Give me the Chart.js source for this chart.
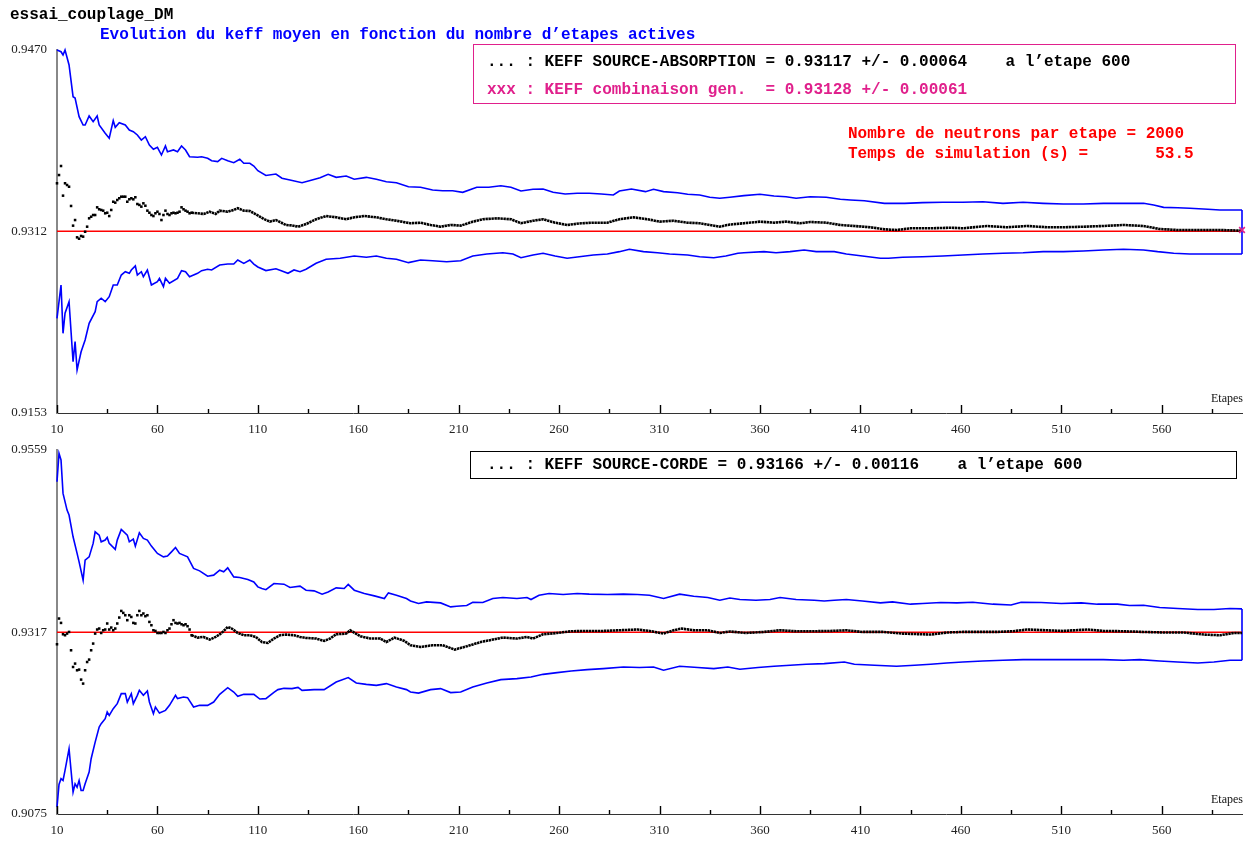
<!DOCTYPE html>
<html><head><meta charset="utf-8">
<script src="https://cdn.jsdelivr.net/npm/chart.js@4.4.1/dist/chart.umd.min.js"></script>
<style>
html,body{margin:0;padding:0;background:#fff;width:1250px;height:842px;overflow:hidden;}
#wrap{position:relative;width:1250px;height:842px;}
canvas{position:absolute;left:0;}
#c1{top:0}
#c2{top:430px}
.t{position:absolute;font-family:"Liberation Mono","DejaVu Sans Mono",monospace;font-weight:bold;font-size:16px;white-space:pre;line-height:16px;}
.box{position:absolute;box-sizing:border-box;}
</style></head>
<body><div id="wrap">
<canvas id="c1" width="1250" height="445"></canvas>
<canvas id="c2" width="1250" height="412"></canvas>
<div class="t" style="left:10px;top:7px;color:#000">essai_couplage_DM</div>
<div class="t" style="left:100px;top:27px;color:#0000ff">Evolution du keff moyen en fonction du nombre d’etapes actives</div>
<div class="box" style="left:473px;top:44px;width:763px;height:60px;border:1.5px solid #e0208c"></div>
<div class="t" style="left:487px;top:54px;color:#000">... : KEFF SOURCE-ABSORPTION = 0.93117 +/- 0.00064    a l’etape 600</div>
<div class="t" style="left:487px;top:82px;color:#e0208c">xxx : KEFF combinaison gen.  = 0.93128 +/- 0.00061</div>
<div class="t" style="left:848px;top:126px;color:#ff0000">Nombre de neutrons par etape = 2000</div>
<div class="t" style="left:848px;top:146px;color:#ff0000">Temps de simulation (s) =       53.5</div>
<div class="box" style="left:470px;top:451px;width:767px;height:28px;border:1.5px solid #000"></div>
<div class="t" style="left:487px;top:457px;color:#000">... : KEFF SOURCE-CORDE = 0.93166 +/- 0.00116    a l’etape 600</div>
</div>
<script>
// ---------- axes / labels ----------
const xMin = 10, xMax = 600;
const xTickValues = [10,60,110,160,210,260,310,360,410,460,510,560];
const xMinorTicks = [35,85,135,185,235,285,335,385,435,485,535,585];
const xAxisTitle = 'Etapes';

const topYMin = 0.9153, topYMax = 0.9470, topKeff = 0.93117, topComb = 0.93128;
const topYLabels = ['0.9153','0.9312','0.9470'];
const botYMin = 0.9075, botYMax = 0.9559, botKeff = 0.93166;
const botYLabels = ['0.9075','0.9317','0.9559'];

// ---------- top panel series : [etape, keff] ----------
const topUpper = [
[10,0.94700],[12,0.94685],[13,0.94656],[14,0.94700],[16,0.94569],[18,0.94292],[19,0.94281],[21,0.94118],[23,0.94045],[24,0.94045],
[26,0.94124],[28,0.94074],[30,0.94124],[31,0.94045],[34,0.93973],[36,0.93929],[38,0.94083],[39,0.94025],[41,0.94065],[44,0.94045],
[46,0.94001],[48,0.93987],[50,0.93958],[52,0.93914],[54,0.93943],[56,0.93870],[58,0.93833],[60,0.93850],[62,0.93783],[64,0.93862],
[65,0.93812],[68,0.93827],[70,0.93812],[72,0.93862],[74,0.93827],[76,0.93768],[80,0.93763],[82,0.93768],[85,0.93754],[87,0.93733],
[90,0.93725],[92,0.93754],[95,0.93733],[98,0.93716],[101,0.93746],[103,0.93711],[106,0.93711],[108,0.93687],[110,0.93646],[114,0.93604],
[119,0.93617],[122,0.93580],[126,0.93565],[132,0.93541],[137,0.93565],[141,0.93585],[145,0.93615],[149,0.93588],[154,0.93600],[158,0.93571],
[164,0.93588],[169,0.93571],[174,0.93550],[179,0.93541],[185,0.93506],[191,0.93501],[197,0.93477],[202,0.93471],[207,0.93471],[212,0.93457],
[219,0.93501],[225,0.93501],[231,0.93515],[236,0.93501],[241,0.93469],[247,0.93484],[252,0.93486],[257,0.93457],[263,0.93443],[269,0.93449],
[275,0.93449],[281,0.93443],[287,0.93434],[290,0.93469],[296,0.93486],[303,0.93463],[307,0.93484],[312,0.93463],[319,0.93454],[324,0.93440],
[330,0.93434],[335,0.93414],[340,0.93405],[345,0.93414],[352,0.93428],[360,0.93440],[367,0.93425],[373,0.93419],[378,0.93405],[385,0.93419],
[393,0.93414],[400,0.93396],[405,0.93390],[412,0.93384],[422,0.93361],[432,0.93361],[441,0.93367],[451,0.93370],[461,0.93370],[471,0.93375],
[481,0.93361],[491,0.93370],[501,0.93361],[511,0.93355],[521,0.93355],[531,0.93361],[541,0.93361],[551,0.93361],[556,0.93347],[561,0.93326],
[568,0.93323],[574,0.93318],[583,0.93309],[589,0.93303],[600,0.93303]
];
const topLower = [
[10,0.92357],[12,0.92648],[13,0.92226],[14,0.92401],[16,0.92502],[18,0.91978],[19,0.92153],[20,0.91906],[22,0.92065],[24,0.92168],
[26,0.92313],[29,0.92415],[30,0.92502],[32,0.92532],[34,0.92502],[36,0.92546],[38,0.92648],[40,0.92648],[42,0.92735],[44,0.92764],
[46,0.92750],[47,0.92779],[49,0.92814],[50,0.92735],[52,0.92764],[53,0.92720],[55,0.92779],[57,0.92648],[60,0.92677],[61,0.92706],
[63,0.92633],[64,0.92706],[66,0.92663],[70,0.92706],[72,0.92773],[74,0.92764],[76,0.92720],[80,0.92750],[82,0.92773],[85,0.92785],
[87,0.92779],[91,0.92822],[95,0.92831],[98,0.92831],[100,0.92866],[103,0.92837],[106,0.92866],[108,0.92831],[110,0.92805],[114,0.92774],
[119,0.92790],[122,0.92770],[125,0.92750],[128,0.92779],[131,0.92764],[134,0.92785],[139,0.92837],[144,0.92872],[151,0.92881],[158,0.92901],
[164,0.92890],[169,0.92901],[174,0.92881],[179,0.92872],[185,0.92843],[191,0.92866],[197,0.92860],[204,0.92851],[211,0.92860],[217,0.92901],
[224,0.92919],[232,0.92930],[237,0.92919],[241,0.92886],[247,0.92910],[252,0.92925],[258,0.92901],[264,0.92881],[270,0.92895],[277,0.92910],
[284,0.92919],[290,0.92939],[295,0.92960],[302,0.92939],[309,0.92930],[315,0.92919],[324,0.92910],[330,0.92895],[337,0.92886],[343,0.92901],
[349,0.92925],[352,0.92930],[362,0.92939],[368,0.92930],[375,0.92939],[382,0.92954],[388,0.92939],[397,0.92939],[403,0.92919],[411,0.92901],
[420,0.92881],[424,0.92881],[431,0.92890],[441,0.92895],[451,0.92901],[461,0.92910],[471,0.92919],[481,0.92925],[491,0.92930],[501,0.92939],
[511,0.92939],[521,0.92945],[531,0.92954],[541,0.92960],[551,0.92954],[558,0.92939],[566,0.92925],[574,0.92919],[584,0.92919],[600,0.92919]
];
const topMean = [
[10,0.93536],[11,0.93608],[12,0.93687],[13,0.93428],[14,0.93536],[15,0.93521],[16,0.93506],[17,0.93338],[18,0.93166],[19,0.93215],
[20,0.93064],[21,0.93052],[22,0.93076],[23,0.93070],[24,0.93113],[25,0.93157],[26,0.93230],[27,0.93244],[28,0.93259],[29,0.93259],
[30,0.93326],[31,0.93309],[32,0.93303],[33,0.93297],[34,0.93274],[35,0.93279],[36,0.93250],[37,0.93303],[38,0.93375],[39,0.93367],
[40,0.93390],[41,0.93405],[42,0.93419],[43,0.93419],[44,0.93419],[45,0.93375],[46,0.93396],[47,0.93405],[48,0.93396],[49,0.93414],
[50,0.93355],[51,0.93347],[52,0.93332],[53,0.93361],[54,0.93340],[55,0.93297],[56,0.93279],[57,0.93259],[58,0.93250],[59,0.93274],
[60,0.93288],[61,0.93268],[62,0.93215],[63,0.93259],[64,0.93297],[65,0.93268],[66,0.93259],[67,0.93274],[68,0.93279],[69,0.93274],
[70,0.93279],[71,0.93288],[72,0.93326],[73,0.93309],[74,0.93297],[75,0.93288],[76,0.93274],[77,0.93279],
[80,0.93274],[83,0.93268],[86,0.93288],[89,0.93268],[91,0.93297],[95,0.93288],[98,0.93303],[100,0.93318],[103,0.93297],[106,0.93294],
[110,0.93255],[113,0.93224],[116,0.93201],[119,0.93215],[121,0.93198],[124,0.93172],[127,0.93168],[130,0.93157],[134,0.93180],[139,0.93222],
[144,0.93250],[149,0.93239],[154,0.93222],[158,0.93239],[163,0.93250],[169,0.93239],[174,0.93222],[179,0.93209],[186,0.93187],[191,0.93192],
[196,0.93172],[201,0.93157],[206,0.93172],[211,0.93166],[217,0.93201],[222,0.93222],[229,0.93230],[236,0.93222],[241,0.93187],[247,0.93209],
[252,0.93222],[258,0.93192],[264,0.93172],[271,0.93187],[277,0.93192],[284,0.93192],[290,0.93222],[297,0.93239],[304,0.93222],[310,0.93201],
[317,0.93209],[324,0.93192],[330,0.93187],[335,0.93172],[340,0.93157],[345,0.93176],[352,0.93187],[360,0.93201],[367,0.93192],[373,0.93201],
[380,0.93187],[385,0.93198],[393,0.93192],[400,0.93172],[407,0.93163],[415,0.93152],[422,0.93134],[428,0.93128],[435,0.93143],[445,0.93143],
[455,0.93148],[461,0.93143],[473,0.93163],[483,0.93152],[493,0.93163],[503,0.93152],[511,0.93152],[521,0.93157],[531,0.93163],[541,0.93172],
[551,0.93163],[559,0.93137],[568,0.93128],[578,0.93128],[589,0.93128],[600,0.93122]
];

// ---------- bottom panel series : [etape, keff] ----------
const botUpper = [
[10,0.95168],[11,0.95546],[12,0.95457],[13,0.95013],[15,0.94791],[16,0.94725],[18,0.94436],[20,0.94215],[21,0.94103],[23,0.93859],
[24,0.94125],[26,0.94169],[28,0.94348],[29,0.94502],[31,0.94458],[32,0.94369],[34,0.94392],[35,0.94428],[36,0.94348],[39,0.94268],
[40,0.94392],[42,0.94534],[45,0.94458],[46,0.94369],[48,0.94405],[49,0.94312],[51,0.94489],[53,0.94414],[55,0.94392],[57,0.94312],
[58,0.94281],[60,0.94215],[63,0.94169],[65,0.94179],[67,0.94236],[69,0.94294],[71,0.94215],[75,0.94169],[78,0.94015],[81,0.93983],
[85,0.93912],[88,0.93926],[91,0.93992],[93,0.93970],[95,0.94023],[98,0.93903],[101,0.93895],[105,0.93868],[108,0.93836],[110,0.93770],
[112,0.93749],[114,0.93733],[118,0.93815],[123,0.93806],[126,0.93762],[131,0.93779],[134,0.93726],[138,0.93717],[142,0.93673],[145,0.93703],
[149,0.93757],[153,0.93749],[155,0.93802],[158,0.93726],[163,0.93682],[168,0.93650],[173,0.93615],[175,0.93690],[179,0.93659],[184,0.93615],
[186,0.93583],[190,0.93549],[194,0.93570],[201,0.93557],[206,0.93504],[209,0.93513],[214,0.93522],[217,0.93566],[222,0.93562],[227,0.93615],
[232,0.93629],[239,0.93615],[244,0.93629],[246,0.93602],[250,0.93659],[255,0.93682],[262,0.93669],[269,0.93682],[275,0.93673],[284,0.93669],
[292,0.93673],[299,0.93669],[305,0.93659],[312,0.93615],[320,0.93673],[327,0.93646],[334,0.93629],[340,0.93593],[345,0.93622],[350,0.93602],
[358,0.93593],[365,0.93602],[370,0.93629],[378,0.93602],[387,0.93593],[392,0.93583],[397,0.93593],[403,0.93602],[411,0.93583],[420,0.93557],
[426,0.93570],[435,0.93540],[441,0.93549],[450,0.93562],[458,0.93557],[466,0.93566],[476,0.93540],[485,0.93530],[490,0.93566],[500,0.93562],
[510,0.93549],[520,0.93557],[528,0.93540],[538,0.93540],[544,0.93522],[551,0.93526],[559,0.93496],[568,0.93482],[578,0.93469],[586,0.93469],
[594,0.93482],[600,0.93477]
];
const botLower = [
[10,0.90841],[11,0.91143],[12,0.91219],[13,0.91196],[14,0.91329],[16,0.91618],[17,0.91329],[18,0.91040],[19,0.91152],[20,0.91107],
[21,0.91196],[22,0.91063],[23,0.91063],[24,0.91152],[26,0.91307],[27,0.91485],[29,0.91706],[31,0.91906],[32,0.91951],[34,0.92018],
[35,0.92106],[36,0.92062],[38,0.92151],[40,0.92217],[42,0.92350],[44,0.92350],[45,0.92239],[47,0.92350],[48,0.92217],[50,0.92328],
[51,0.92394],[53,0.92328],[55,0.92385],[56,0.92239],[58,0.92084],[59,0.92172],[61,0.92092],[64,0.92128],[66,0.92195],[69,0.92328],
[70,0.92284],[73,0.92305],[75,0.92297],[78,0.92172],[81,0.92195],[85,0.92195],[88,0.92239],[91,0.92341],[95,0.92430],[98,0.92372],
[100,0.92315],[103,0.92341],[108,0.92341],[111,0.92279],[114,0.92284],[118,0.92368],[120,0.92404],[123,0.92421],[127,0.92417],[130,0.92434],
[132,0.92394],[138,0.92404],[143,0.92404],[149,0.92505],[155,0.92564],[159,0.92492],[164,0.92474],[169,0.92461],[174,0.92484],[179,0.92438],
[184,0.92404],[186,0.92372],[190,0.92358],[196,0.92404],[201,0.92417],[206,0.92364],[211,0.92372],[217,0.92438],[224,0.92492],[231,0.92537],
[239,0.92550],[246,0.92571],[252,0.92607],[259,0.92630],[266,0.92651],[274,0.92670],[282,0.92683],[292,0.92705],[300,0.92697],[307,0.92705],
[312,0.92661],[320,0.92714],[329,0.92697],[337,0.92683],[344,0.92705],[350,0.92674],[359,0.92697],[367,0.92714],[375,0.92727],[383,0.92741],
[392,0.92750],[402,0.92771],[407,0.92741],[417,0.92727],[428,0.92714],[437,0.92727],[445,0.92741],[453,0.92758],[461,0.92771],[471,0.92785],
[481,0.92794],[491,0.92803],[501,0.92803],[511,0.92803],[521,0.92803],[531,0.92803],[541,0.92794],[549,0.92803],[559,0.92785],[568,0.92771],
[578,0.92758],[586,0.92771],[594,0.92794],[600,0.92794]
];
const botMean = [
[10,0.93007],[11,0.93349],[12,0.93291],[13,0.93140],[14,0.93127],[15,0.93149],[16,0.93171],[17,0.92927],[18,0.92705],[19,0.92750],
[20,0.92661],[21,0.92670],[22,0.92537],[23,0.92484],[24,0.92661],[25,0.92771],[26,0.92803],[27,0.92927],[28,0.93016],[29,0.93149],
[30,0.93203],[31,0.93216],[32,0.93157],[33,0.93193],[34,0.93203],[35,0.93283],[36,0.93203],[37,0.93229],[38,0.93193],[39,0.93216],
[40,0.93283],[41,0.93362],[42,0.93450],[43,0.93424],[44,0.93393],[45,0.93327],[46,0.93393],[47,0.93370],[48,0.93291],[49,0.93283],
[50,0.93393],[51,0.93450],[52,0.93393],[53,0.93416],[54,0.93380],[55,0.93393],[56,0.93304],[57,0.93260],[58,0.93193],[59,0.93184],
[60,0.93157],[61,0.93157],[62,0.93157],[63,0.93171],[64,0.93157],[65,0.93193],[66,0.93216],[67,0.93273],[68,0.93327],[69,0.93291],
[70,0.93283],[71,0.93291],[72,0.93273],[73,0.93260],[74,0.93273],[75,0.93247],[76,0.93203],[77,0.93127],
[80,0.93096],[83,0.93104],[86,0.93069],[89,0.93104],[92,0.93157],[95,0.93237],[97,0.93216],[100,0.93157],[103,0.93127],[106,0.93127],
[109,0.93104],[112,0.93037],[115,0.93024],[118,0.93083],[121,0.93127],[124,0.93136],[128,0.93127],[131,0.93104],[134,0.93091],[139,0.93083],
[143,0.93051],[146,0.93083],[149,0.93140],[154,0.93149],[156,0.93193],[161,0.93113],[166,0.93083],[171,0.93083],[174,0.93037],[178,0.93096],
[183,0.93051],[186,0.92994],[191,0.92971],[197,0.92994],[202,0.92994],[208,0.92936],[214,0.92980],[221,0.93037],[227,0.93069],[232,0.93096],
[239,0.93083],[244,0.93104],[247,0.93083],[252,0.93140],[259,0.93157],[266,0.93180],[274,0.93184],[282,0.93184],[290,0.93193],[299,0.93203],
[305,0.93184],[312,0.93149],[317,0.93193],[321,0.93216],[327,0.93193],[334,0.93193],[340,0.93157],[345,0.93177],[353,0.93157],[362,0.93171],
[370,0.93193],[378,0.93180],[387,0.93180],[395,0.93184],[403,0.93193],[411,0.93171],[421,0.93171],[431,0.93149],[445,0.93136],[453,0.93163],
[461,0.93171],[470,0.93171],[478,0.93171],[486,0.93180],[493,0.93203],[503,0.93193],[511,0.93184],[523,0.93203],[531,0.93184],[541,0.93180],
[551,0.93171],[561,0.93163],[571,0.93163],[581,0.93136],[589,0.93127],[596,0.93157],[600,0.93157]
];

// ---------- rendering ----------
const BLUE = '#0000ff', RED = '#ff0000', MAGENTA = '#e0208c';
const dotsUntil = 77;   // individual markers up to this step, then the dense run is drawn as a beaded chain
const pts = arr => arr.map(p => ({x: p[0], y: p[1]}));

const axisDeco = {
  id: 'axisDeco',
  afterDraw(chart) {
    const {ctx, chartArea: a, scales: {x}} = chart;
    ctx.save();
    ctx.strokeStyle = '#000';
    ctx.lineWidth = 1.4;
    const tick = (v, len) => {
      const px = Math.round(x.getPixelForValue(v)) + 0.5;
      ctx.beginPath(); ctx.moveTo(px, a.bottom); ctx.lineTo(px, a.bottom - len); ctx.stroke();
    };
    xTickValues.forEach(v => tick(v, 8));
    xMinorTicks.forEach(v => tick(v, 4));
    ctx.fillStyle = '#111';
    ctx.font = '12px "Liberation Serif", serif';
    ctx.textAlign = 'right';
    ctx.textBaseline = 'alphabetic';
    ctx.fillText(xAxisTitle, a.right + 1, a.bottom - 11);
    ctx.restore();
  }
};

function makeChart(id, cfg) {
  const datasets = [];
  if (cfg.comb !== undefined) {
    datasets.push({data: [{x: xMax, y: cfg.comb}], pointStyle: 'crossRot', pointRadius: 4,
      borderColor: MAGENTA, backgroundColor: MAGENTA, pointBorderWidth: 1.6, clip: false});
  }
  datasets.push({
    data: pts(cfg.mean), showLine: true, borderColor: '#000', backgroundColor: '#000',
    borderWidth: 2.6, borderDash: [2.4, 0.6], clip: false,
    segment: {borderColor: c => (c.p0.parsed.x < dotsUntil ? 'rgba(0,0,0,0)' : '#000')},
    pointStyle: 'rect', pointBorderWidth: 0,
    pointRadius: c => (c.raw && c.raw.x <= dotsUntil ? 1.8 : 0)
  });
  datasets.push({data: [{x: xMin, y: cfg.keff}, {x: xMax, y: cfg.keff}], showLine: true,
    borderColor: RED, borderWidth: 1.5, pointRadius: 0, clip: false});
  const up = cfg.upper, lo = cfg.lower;
  datasets.push({data: pts(up), showLine: true, borderColor: BLUE, borderWidth: 1.6, pointRadius: 0, clip: false});
  datasets.push({data: pts(lo), showLine: true, borderColor: BLUE, borderWidth: 1.6, pointRadius: 0, clip: false});
  datasets.push({data: [{x: up[up.length-1][0], y: up[up.length-1][1]}, {x: lo[lo.length-1][0], y: lo[lo.length-1][1]}],
    showLine: true, borderColor: BLUE, borderWidth: 1.6, pointRadius: 0, clip: false});

  return new Chart(document.getElementById(id), {
    type: 'scatter',
    data: {datasets},
    plugins: [axisDeco],
    options: {
      responsive: false, animation: false, events: [],
      layout: {padding: {top: cfg.padTop, right: 8, left: 0, bottom: 0}},
      plugins: {legend: {display: false}, tooltip: {enabled: false}},
      elements: {line: {tension: 0}},
      scales: {
        x: {
          type: 'linear', min: xMin, max: xMax,
          afterBuildTicks: s => { s.ticks = xTickValues.map(v => ({value: v})); },
          afterFit: s => { s.height = cfg.xAxisH; },
          ticks: {callback: v => String(v), padding: 9, autoSkip: false, maxRotation: 0,
                  font: {family: 'Liberation Serif', size: 13}, color: '#222'},
          grid: {display: false, drawTicks: false},
          border: {display: true, color: '#333', width: 1}
        },
        y: {
          type: 'linear', min: cfg.yMin, max: cfg.yMax,
          afterBuildTicks: s => { s.ticks = [{value: cfg.yMin}, {value: cfg.keff}, {value: cfg.yMax}]; },
          afterFit: s => { s.width = 57; },
          ticks: {callback: (v, i) => cfg.yLabels[i], padding: 10, autoSkip: false,
                  font: {family: 'Liberation Serif', size: 13}, color: '#222'},
          grid: {display: false, drawTicks: false},
          border: {display: true, color: '#888', width: 2}
        }
      }
    }
  });
}

makeChart('c1', {upper: topUpper, lower: topLower, mean: topMean, keff: topKeff, comb: topComb,
  yMin: topYMin, yMax: topYMax, yLabels: topYLabels, padTop: 50, xAxisH: 32});
makeChart('c2', {upper: botUpper, lower: botLower, mean: botMean, keff: botKeff,
  yMin: botYMin, yMax: botYMax, yLabels: botYLabels, padTop: 20, xAxisH: 28});
</script>
</body></html>
